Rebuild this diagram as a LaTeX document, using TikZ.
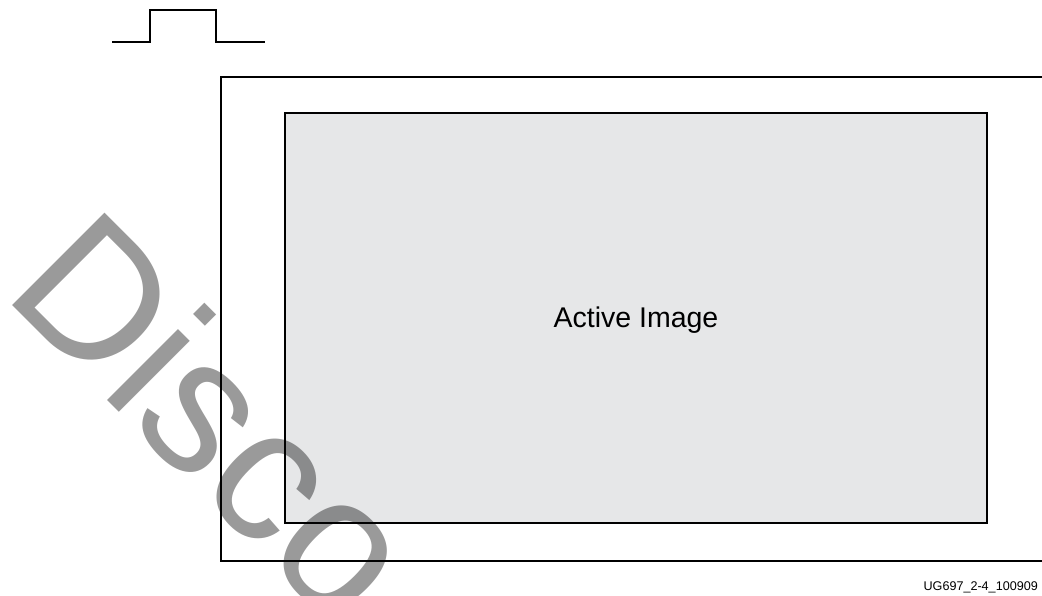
\documentclass[tikz,border=0pt]{standalone}
\usepackage{fontspec}
\setmainfont{Liberation Sans}
\begin{document}
\begin{tikzpicture}[x=1pt,y=-1pt,
  frameline/.style={line width=1.9pt,black},
  activebox/.style={draw=black,line width=1.4pt,fill={rgb,255:red,230;green,231;blue,232},
    minimum width=702pt,minimum height=410pt,inner sep=0pt},
  pulseline/.style={line width=2pt,black},
  wmark/.style={text={rgb,255:red,154;green,154;blue,154},inner sep=0pt,rotate=-45,anchor=base west,
    font=\fontsize{190}{190}\selectfont}]
\useasboundingbox (0,0) rectangle (1042,595);
\clip (0,0) rectangle (1042,595);
% pulse
\coordinate (p0) at (112,42);
\coordinate (p1) at (150,42);
\coordinate (p2) at (150,9.5);
\coordinate (p3) at (216,9.5);
\coordinate (p4) at (216,42);
\coordinate (p5) at (265,42);
\draw[pulseline] (p0) -- (p1) -- (p2) -- (p3) -- (p4) -- (p5);
% outer frame
\coordinate (ftr) at (1050,77);
\coordinate (ftl) at (221,77);
\coordinate (fbl) at (221,561);
\coordinate (fbr) at (1050,561);
\draw[frameline] (ftr) -- (ftl) -- (fbl) -- (fbr);
% active image
\node[activebox] (active) at (636,318) {};
\node[anchor=base,inner sep=0pt,font=\fontsize{28.5}{30}\selectfont] (label) at (636,327) {Active Image};
% figure id
\node[anchor=base east,inner sep=0pt,font=\fontsize{12.6}{14}\selectfont] (figid) at (1038,590.5) {UG697\_2-4\_100909};
% watermark
\begin{scope}[blend mode=multiply]
\node[wmark] (wm) at (1,294.5) {Disco};
\end{scope}
\end{tikzpicture}
\end{document}
